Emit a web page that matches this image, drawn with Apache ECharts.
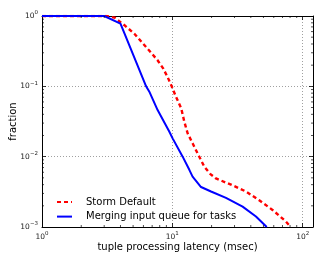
<!DOCTYPE html>
<html><head><meta charset="utf-8">
<script src="https://cdn.jsdelivr.net/npm/echarts@6/dist/echarts.min.js"></script>
<style>html,body{margin:0;padding:0;background:#fff}#c{width:316px;height:255px}</style>
</head><body><div id="c"></div>
<script>
const seriesNames = ['Storm Default', 'Merging input queue for tasks'];
const stormX = [1, 3.1, 3.6, 4.29, 5.11, 5.92, 6.87, 7.7, 8.5, 9.2, 9.8, 10.0, 10.67, 11.7, 12.36, 13.1, 14.3, 15.6, 17.6, 19.5, 21.6, 28.2, 36.7, 46.4, 58.7, 74.3, 81];
const stormY = [1, 1, 0.95, 0.74, 0.56, 0.41, 0.30, 0.235, 0.18, 0.135, 0.104, 0.1, 0.071, 0.0486, 0.0313, 0.0215, 0.0155, 0.0112, 0.0072, 0.0057, 0.0049, 0.0040, 0.0032, 0.0024, 0.00175, 0.0012, 0.001];
const mergeX = [1, 3.0, 4.0, 6.29, 6.66, 7.71, 9.49, 10.05, 12.0, 13.5, 14.3, 16.6, 19.8, 25.8, 34.6, 43.8, 53];
const mergeY = [1, 1, 0.78, 0.1, 0.084, 0.046, 0.0226, 0.0182, 0.0100, 0.0065, 0.0052, 0.0037, 0.0032, 0.0026, 0.00195, 0.00141, 0.001];
const xMinorTicks = [2,3,4,5,6,7,8,9,20,30,40,50,60,70,80,90];
const yMinorTicks = [0.002,0.003,0.004,0.005,0.006,0.007,0.008,0.009,0.02,0.03,0.04,0.05,0.06,0.07,0.08,0.09,0.2,0.3,0.4,0.5,0.6,0.7,0.8,0.9];
const xTitle = 'tuple processing latency (msec)';
const yTitle = 'fraction';

const zip = (a, b) => a.map((v, i) => [v, b[i]]);
const FONT = 'DejaVu Sans';
function powLabel(v) {
  const l = Math.log10(v), e = Math.round(l);
  if (Math.abs(l - e) > 1e-6) return '';
  return '{b|10}{s|' + (e < 0 ? '\u2212' + (-e) : e) + '}';
}
const rich = {
  b: {fontFamily: FONT, fontSize: 7.5, color: '#222'},
  s: {fontFamily: FONT, fontSize: 5.5, color: '#222', padding: [0, 0, 6, 0]}
};
const axisLine = {show: true, onZero: false, lineStyle: {color: '#000', width: 1}};
const tick = {show: true, inside: true, length: 4, lineStyle: {color: '#000', width: 0.8}};
const grid = {left: 42, top: 16, width: 271, height: 211, containLabel: false, outerBoundsMode: 'none'};

function minorX(params, api) {
  const c = params.coordSys;
  const p = api.coord([api.value(0), 1]);
  const st = {stroke: '#000', lineWidth: 0.7};
  return {type: 'group', children: [
    {type: 'line', shape: {x1: p[0], y1: c.y + c.height, x2: p[0], y2: c.y + c.height - 2}, style: st},
    {type: 'line', shape: {x1: p[0], y1: c.y, x2: p[0], y2: c.y + 2}, style: st}
  ]};
}
function minorY(params, api) {
  const c = params.coordSys;
  const p = api.coord([1, api.value(1)]);
  const st = {stroke: '#000', lineWidth: 0.7};
  return {type: 'group', children: [
    {type: 'line', shape: {x1: c.x, y1: p[1], x2: c.x + 2, y2: p[1]}, style: st},
    {type: 'line', shape: {x1: c.x + c.width, y1: p[1], x2: c.x + c.width - 2, y2: p[1]}, style: st}
  ]};
}

const chart = echarts.init(document.getElementById('c'), null, {renderer: 'canvas'});
chart.setOption({
  animation: false,
  backgroundColor: '#fff',
  grid: grid,
  legend: {
    left: 51, top: 191, orient: 'vertical', itemWidth: 15, itemHeight: 10, itemGap: 2.6,
    data: seriesNames,
    itemStyle: {opacity: 0},
    textStyle: {fontFamily: FONT, fontSize: 10, color: '#000', lineHeight: 12, padding: [0, 0, 0, 9]}
  },
  xAxis: [
    {type: 'log', logBase: 10, min: 1, max: 120, position: 'bottom',
     name: xTitle, nameLocation: 'middle', nameGap: 15, nameMoveOverlap: false,
     nameTextStyle: {fontFamily: FONT, fontSize: 10, color: '#000'},
     axisLine: axisLine, axisTick: tick, minorTick: {show: false},
     axisLabel: {formatter: powLabel, rich: rich, margin: 4, showMinLabel: true, showMaxLabel: true},
     splitLine: {show: true, lineStyle: {color: '#888', width: 0.8, type: [1, 2]}}},
    {type: 'log', logBase: 10, min: 1, max: 120, position: 'top',
     axisLine: axisLine, axisTick: tick, axisLabel: {show: false}, splitLine: {show: false}}
  ],
  yAxis: [
    {type: 'log', logBase: 10, min: 0.001, max: 1, position: 'left',
     name: yTitle, nameLocation: 'middle', nameGap: 24, nameRotate: 90, nameMoveOverlap: false,
     nameTextStyle: {fontFamily: FONT, fontSize: 10, color: '#000'},
     axisLine: axisLine, axisTick: tick,
     axisLabel: {formatter: powLabel, rich: rich, margin: 4},
     splitLine: {show: true, lineStyle: {color: '#888', width: 0.8, type: [1, 2]}}},
    {type: 'log', logBase: 10, min: 0.001, max: 1, position: 'right',
     axisLine: axisLine, axisTick: tick, axisLabel: {show: false}, splitLine: {show: false}}
  ],
  series: [
    {name: seriesNames[0], type: 'line', data: zip(stormX, stormY), showSymbol: false, symbol: 'none',
     smooth: false, clip: true, z: 3,
     lineStyle: {color: '#ff0000', width: 2.4, type: [4, 3]}, itemStyle: {color: '#ff0000'}},
    {name: seriesNames[1], type: 'line', data: zip(mergeX, mergeY), showSymbol: false, symbol: 'none',
     smooth: false, clip: true, z: 4,
     lineStyle: {color: '#0000ff', width: 2}, itemStyle: {color: '#0000ff'}},
    {type: 'custom', renderItem: minorX, data: xMinorTicks.map(v => [v, 1]), silent: true, clip: false, z: 5},
    {type: 'custom', renderItem: minorY, data: yMinorTicks.map(v => [1, v]), silent: true, clip: false, z: 5}
  ]
});
</script></body></html>
